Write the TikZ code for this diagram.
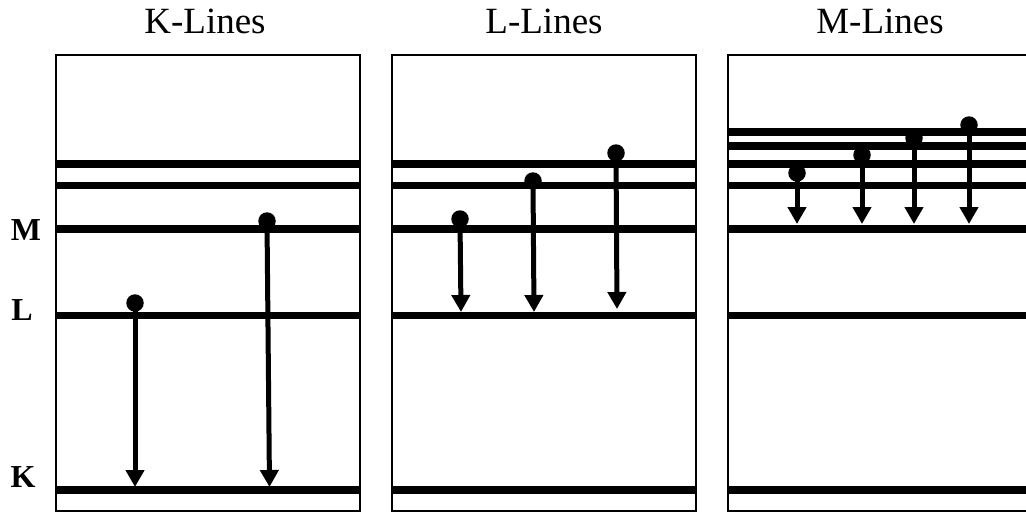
\documentclass[tikz,border=0pt]{standalone}
\usepackage{fontspec}
\setmainfont{Liberation Serif}
\usetikzlibrary{arrows.meta}
\tikzset{
  panel/.style={draw, line width=2pt},
  level/.style={line width=7.5pt},
  dot/.style={circle, fill=black, inner sep=0pt, minimum size=17.5pt},
  emit/.style={line width=5pt, -{Triangle[length=17pt,width=18pt]}},
  title/.style={font=\fontsize{37}{40}\selectfont, anchor=base},
  shell/.style={font=\fontsize{32}{36}\selectfont\bfseries, anchor=base},
}
\begin{document}
\begin{tikzpicture}[x=1pt, y=-1pt]
  \clip (0,0) rectangle (1026,514);
  \fill[white] (0,0) rectangle (1026,514);

  % panel frames
  \draw[panel] (56,55) rectangle (360,511);
  \draw[panel] (392,55) rectangle (696,511);
  \draw[panel] (728,55) rectangle (1032,511);

  % titles
  \node[title] (tk) at (205,33) {K-Lines};
  \node[title] (tl) at (544,33) {L-Lines};
  \node[title] (tm) at (880,33) {M-Lines};

  % shell labels
  \node[shell] (lm) at (26,240) {M};
  \node[shell] (ll) at (22,320) {L};
  \node[shell] (lk) at (23,487) {K};

  % energy levels
  \foreach \xa/\xb in {56/360, 392/696, 728/1032}{
    \foreach \y in {164,185.5,229,315.5,490}
      \draw[level] (\xa,\y) -- (\xb,\y);
  }
  \foreach \y in {132,146}
    \draw[level] (728,\y) -- (1032,\y);

  % K-line transitions
  \node[dot] (k1) at (135,303) {};
  \node[dot] (k2) at (267,221) {};
  \coordinate (k1e) at (135,487);
  \coordinate (k2e) at (269.5,487);
  \draw[emit] (k1.center) -- (k1e);
  \draw[emit] (k2.center) -- (k2e);

  % L-line transitions
  \node[dot] (l1) at (460,219) {};
  \node[dot] (l2) at (533,181) {};
  \node[dot] (l3) at (616,153) {};
  \coordinate (l1e) at (461,312);
  \coordinate (l2e) at (534,312);
  \coordinate (l3e) at (617,309);
  \draw[emit] (l1.center) -- (l1e);
  \draw[emit] (l2.center) -- (l2e);
  \draw[emit] (l3.center) -- (l3e);

  % M-line transitions
  \node[dot] (m1) at (797,173) {};
  \node[dot] (m2) at (862,155) {};
  \node[dot] (m3) at (914,138) {};
  \node[dot] (m4) at (969,125) {};
  \coordinate (m1e) at (797,224);
  \coordinate (m2e) at (862,224);
  \coordinate (m3e) at (914,224);
  \coordinate (m4e) at (969,224);
  \draw[emit] (m1.center) -- (m1e);
  \draw[emit] (m2.center) -- (m2e);
  \draw[emit] (m3.center) -- (m3e);
  \draw[emit] (m4.center) -- (m4e);
\end{tikzpicture}
\end{document}
